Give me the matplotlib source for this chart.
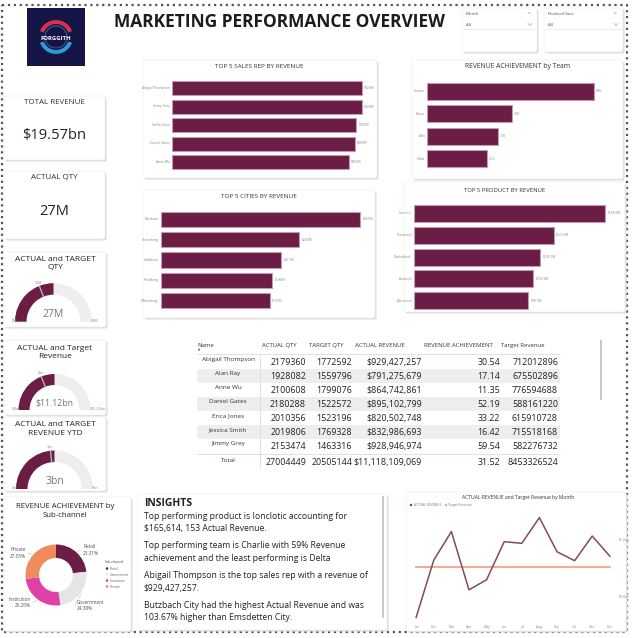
import numpy as np
import matplotlib
matplotlib.use('Agg')
import matplotlib.pyplot as plt
from matplotlib.patches import FancyBboxPatch, Rectangle, Wedge, Circle

plt.rcParams['font.family'] = ['Open Sans', 'DejaVu Sans']

# ---- data ----
rep_names = ['Abigail Thompson', 'Jimmy Grey', 'Stella Given', 'Daniel Gates', 'Anne Wu']
rep_rev = [929.4, 928.9, 901.0, 895.1, 864.7]          # $M

team_names = ['Charlie', 'Bravo', 'Alfa', 'Delta']
team_ach = [59, 30, 25, 21]                              # %

city_names = ['Butzbach', 'Sonneberg', 'Gladbeck', 'Friedberg', 'Wittenberg']
city_rev = [351, 243, 211, 196, 191]                     # $M

prod_names = ['Ionclotic', 'Tetratanyl', 'Nuclarbitol', 'Ambizol', 'Abraxisol']
prod_rev = [165.6, 121.0, 109.1, 103.3, 98.7]            # $M

subch_names = ['Retail', 'Government', 'Institution', 'Private']
subch_pct = [23.31, 24.38, 25.26, 27.05]

months = ['Jan', 'Feb', 'Mar', 'Apr', 'May', 'Jun', 'Jul', 'Aug', 'Sep', 'Oct', 'Nov', 'Dec']
month_actual = [0.862, 0.964, 1.015, 0.911, 0.929, 0.997, 0.994, 1.040, 0.979, 0.963, 1.007, 0.971]  # $bn
month_target = [0.952] * 12

tbl_names = ['Abigail Thompson', 'Alan Ray', 'Anne Wu', 'Daniel Gates', 'Erica Jones', 'Jessica Smith', 'Jimmy Grey']
tbl_actual_qty = [2179360, 1928082, 2100608, 2180288, 2010356, 2019806, 2153474]
tbl_target_qty = [1772592, 1559796, 1799076, 1522572, 1523196, 1769328, 1463316]
tbl_actual_rev = [929427257, 791275679, 864742861, 895102799, 820502748, 832986693, 928946974]
tbl_rev_ach = [30.54, 17.14, 11.35, 52.19, 33.22, 16.42, 59.54]
tbl_target_rev = [712012896, 675502896, 776594688, 588161220, 615910728, 715518168, 582276732]
tbl_total = ['27004449', '20505144', '$11,118,109,069', '31.52', '8453326524']

# gauges: actual, max, target
qty_gauge = [27, 54, 20.5]
rev_gauge = [11.12, 22.24, 8.45]
ytd_gauge = [3, 6, 2.8]

insights = [
    ['Top performing product is Ionclotic accounting for', '$165,614, 153 Actual Revenue.'],
    ['Top performing team is Charlie with 59% Revenue', 'achievement and the least performing is Delta'],
    ['Abigail Thompson is the top sales rep with a revenue of', '$929,427,257.'],
    ['Butzbach City had the highest Actual Revenue and was', '103.67% higher than Emsdetten City.'],
]

maroon = '#6B1D45'
W, H = 632, 638

fig = plt.figure(figsize=(W / 100, H / 100), dpi=100)
fig.patch.set_facecolor('white')
bg = fig.add_axes([0, 0, 1, 1])
bg.set_xlim(0, W)
bg.set_ylim(H, 0)
bg.axis('off')


def px_axes(x0, y0, x1, y1):
    return fig.add_axes([x0 / W, 1 - y1 / H, (x1 - x0) / W, (y1 - y0) / H])


def card(x0, y0, x1, y1):
    bg.add_patch(FancyBboxPatch((x0 + 1.5, y0 + 1.5), x1 - x0, y1 - y0,
                                boxstyle='round,pad=0,rounding_size=2', fc='#dadada', ec='none', zorder=1))
    bg.add_patch(FancyBboxPatch((x0, y0), x1 - x0, y1 - y0,
                                boxstyle='round,pad=0,rounding_size=2', fc='white', ec='#efefef', lw=0.5, zorder=2))


# dotted page border
bg.plot([2, 627, 627, 2, 2], [5, 5, 632, 632, 5], ls=':', color='#555555', lw=1.6, zorder=0)

# logo
bg.add_patch(Rectangle((27, 8), 58, 58, fc='#141544', ec='none', zorder=3))
bg.add_patch(Wedge((56, 37), 17, 200, 340, width=4, fc='#d9304c', ec='none', zorder=4))
bg.add_patch(Wedge((56, 37), 17, 20, 160, width=4, fc='#2f9ad8', ec='none', zorder=4))
bg.add_patch(Circle((56, 37), 11, fc='none', ec='#3a6fb0', lw=0.6, zorder=4))
bg.text(56, 38, 'FORGGITH', color='white', fontsize=4.3, weight='bold', ha='center', va='center', zorder=5)

bg.text(279, 22, 'MARKETING PERFORMANCE OVERVIEW', fontsize=12.5, weight='bold',
        ha='center', va='center', color='#1c1c1c')

# slicers
for (x0, x1, lab) in [(462, 537, 'Month'), (544, 623, 'ProductClass')]:
    card(x0, 8, x1, 52)
    bg.text(x0 + 4, 14, lab, fontsize=3.2, color='#555555', va='center', zorder=3)
    bg.text(x0 + 4, 24.5, 'All', fontsize=3.2, color='#555555', va='center', zorder=3)
    bg.plot([x0 + 2, x1 - 2], [29, 29], color='#e8e8e8', lw=0.6, zorder=3)
    for yy, s in [(13, 1.2), (24.5, 2)]:
        bg.plot([x1 - 9, x1 - 9 + s, x1 - 9 + 2 * s], [yy - s / 2, yy + s / 2, yy - s / 2],
                color='#aaaaaa', lw=0.5, zorder=3)

# KPI cards
card(4, 96, 105, 160)
bg.text(54, 102.7, 'TOTAL REVENUE', fontsize=5.8, ha='center', va='center', color='#333333', zorder=3)
bg.text(54, 136, '$19.57bn', fontsize=10.5, ha='center', va='center', color='#222222', zorder=3)
card(4, 171, 105, 239)
bg.text(54, 177.7, 'ACTUAL QTY', fontsize=5.8, ha='center', va='center', color='#333333', zorder=3)
bg.text(54, 211.7, '27M', fontsize=10.5, ha='center', va='center', color='#222222', zorder=3)


def gauge(cx, cy, r, w, vals, vtxt, mintxt, maxtxt, ttxt, vsize):
    actual, vmax, target = vals
    bg.add_patch(Wedge((cx, cy), r, 180, 360, width=w, fc='#efeded', ec='none', zorder=3))
    bg.add_patch(Wedge((cx, cy), r, 180, 180 + 180 * actual / vmax, width=w, fc=maroon, ec='none', zorder=4))
    a = np.deg2rad(180 + 180 * target / vmax)
    bg.plot([cx + (r - w) * np.cos(a), cx + r * np.cos(a)], [cy + (r - w) * np.sin(a), cy + r * np.sin(a)],
            color='#bdbdbd', lw=0.9, zorder=5)
    bg.text(cx + (r + 1.5) * np.cos(a), cy + (r + 1.5) * np.sin(a), ttxt, fontsize=2.6, color='#888888',
            ha='center', va='bottom', zorder=5)
    bg.text(cx, cy - 7, vtxt, fontsize=vsize, color='#777777', ha='center', va='center', zorder=5)
    bg.text(cx - r + 2, cy - 1, mintxt, fontsize=2.6, color='#888888', ha='right', va='center', zorder=5)
    bg.text(cx + r - 1, cy - 1, maxtxt, fontsize=2.6, color='#888888', ha='left', va='center', zorder=5)


card(4, 252, 106, 327)
bg.text(55, 263.5, 'ACTUAL and TARGET\nQTY', fontsize=6, ha='center', va='center', color='#222222',
        linespacing=1.35, zorder=3)
gauge(53.5, 321.7, 38.5, 11.5, qty_gauge, '27M', '0M', '54M', '20M', 7.5)

card(4, 340, 106, 415)
bg.text(55, 352.5, 'ACTUAL and Target\nRevenue', fontsize=6, ha='center', va='center', color='#222222',
        linespacing=1.35, zorder=3)
gauge(54.5, 410, 36, 11, rev_gauge, '$11.12bn', '$0bn', '$22.24bn', '8bn', 6.3)

card(4, 417, 106, 491)
bg.text(55, 429, 'ACTUAL and TARGET\nREVENUE YTD', fontsize=6, ha='center', va='center', color='#222222',
        linespacing=1.35, zorder=3)
gauge(54.5, 489, 38.5, 11.5, ytd_gauge, '3bn', '0bn', '6bn', '3bn', 7.5)

# donut
card(4, 497, 131, 631)
bg.text(65, 511, 'REVENUE ACHIEVEMENT by\nSub-channel', fontsize=5.6, ha='center', va='center',
        color='#222222', linespacing=1.35, zorder=3)
sub_colors = [maroon, '#e6e4e4', '#df42a4', '#ef8c5b']
dcx, dcy, dr = 56, 575, 30.5
start = 270
label_pos = [(83, 550, 'left'), (77, 605.5, 'left'), (31, 602.5, 'right'), (26, 553, 'right')]
for name, pct, col, (lx, ly, ha) in zip(subch_names, subch_pct, sub_colors, label_pos):
    end = start + pct * 3.6
    bg.add_patch(Wedge((dcx, dcy), dr, start, end, width=13.5, fc=col, ec='none', zorder=3))
    mid = np.deg2rad((start + end) / 2)
    px, py = dcx + (dr + 1) * np.cos(mid), dcy + (dr + 1) * np.sin(mid)
    ex = lx - 2 if ha == 'left' else lx + 2
    bg.plot([px, ex], [py, ly], color='#bbbbbb', lw=0.4, zorder=3)
    bg.text(lx, ly, f'{name}\n{pct:.2f}%', fontsize=3.4, color='#555555', ha=ha, va='center',
            linespacing=1.3, zorder=3)
    start = end
bg.text(105, 562, 'Sub-channel', fontsize=2.4, color='#444444', va='center', zorder=3)
for i, (name, col) in enumerate(zip(subch_names, sub_colors)):
    yy = 568.5 + 6 * i
    bg.add_patch(Circle((107, yy), 1.3, fc=col, ec='none', zorder=3))
    bg.text(110, yy, name, fontsize=2.4, color='#666666', va='center', zorder=3)

# insights
card(138, 494, 387, 630)
bg.add_patch(FancyBboxPatch((382, 496), 2, 122, boxstyle='round,pad=0,rounding_size=1',
                            fc='#c8c8c8', ec='none', zorder=3))
bg.text(144, 503.3, 'INSIGHTS', fontsize=7.5, weight='bold', color='#222222', va='center', zorder=3)
yy = 516.3
for para in insights:
    for line in para:
        bg.text(144, yy, line, fontsize=6.2, color='#222222', va='center', zorder=3)
        yy += 12.4
    yy += 4.9

# horizontal bar charts
def hbar(box, left, right_max, axright, top, bottom, h, names, vals, labels, title, title_xy, tsize):
    card(*box)
    n = len(vals)
    p = (bottom - top - h) / (n - 1)
    ax = px_axes(left, top - (p - h) / 2, axright, bottom + (p - h) / 2)
    ax.barh(range(n), vals, height=h / p, color=maroon, edgecolor='#c49ab2', linewidth=0.8, zorder=3)
    ax.set_ylim(n - 0.5, -0.5)
    xmax = max(vals) * (axright - left) / (right_max - left)
    ax.set_xlim(0, xmax)
    ax.axis('off')
    for i, (nm, v, lb) in enumerate(zip(names, vals, labels)):
        ax.text(-xmax * 0.012, i, nm, fontsize=2.4, color='#888888', ha='right', va='center', clip_on=False)
        ax.text(v + xmax * 0.012, i, lb, fontsize=2.4, color='#888888', ha='left', va='center')
    bg.text(title_xy[0], title_xy[1], title, fontsize=tsize, color='#333333', ha='center', va='center', zorder=3)


hbar((143, 60, 377, 178), 172.3, 361.7, 376, 81, 169, 14, rep_names, rep_rev,
     [f'${v:.0f}M' for v in rep_rev], 'TOP 5 SALES REP BY REVENUE', (259, 66.7), 4.6)
hbar((412, 60, 623, 179), 427.3, 593.7, 618, 82.7, 167, 17, team_names, team_ach,
     [f'{v}%' for v in team_ach], 'REVENUE ACHIEVEMENT by Team', (517.7, 66.7), 4.9)
hbar((143, 190, 375, 318), 161.3, 360.3, 374, 211.7, 308.3, 15.5, city_names, city_rev,
     [f'${v}M' for v in city_rev], 'TOP 5 CITIES BY REVENUE', (259, 196.7), 4.6)
hbar((404, 182, 625, 312), 414, 605.3, 623, 205, 309.3, 17, prod_names, prod_rev,
     [f'${v:.1f}M' for v in prod_rev], 'TOP 5 PRODUCT BY REVENUE', (505, 190), 4.2)

# table
hdr_x = [197, 262, 309, 355, 424, 501]
hdrs = ['Name', 'ACTUAL QTY', 'TARGET QTY', 'ACTUAL REVENUE', 'REVENUE ACHIEVEMENT', 'Target Revenue']
for x, hd in zip(hdr_x, hdrs):
    bg.text(x, 345.7, hd, fontsize=4.3, color='#333333', va='center', zorder=3)
bg.text(198, 349.8, '▲', fontsize=2, color='#333333', va='center', zorder=3)
bg.plot([197, 560], [354, 354], color='#cfe0f0', lw=0.6, zorder=3)
bg.plot([259.5, 259.5], [354, 467], color='#cfe0f0', lw=0.6, zorder=3)
bg.plot([197, 560], [453.5, 453.5], color='#cfe0f0', lw=0.6, zorder=3)
col_right = [306, 352, 422, 500, 558]
for i in range(len(tbl_names)):
    ry = 362.3 + 14 * i
    if i % 2 == 1:
        bg.add_patch(Rectangle((197, ry - 7), 363, 14, fc='#eeeeee', ec='none', zorder=2))
    bg.text(228, ry - 2.5, tbl_names[i], fontsize=4.6, color='#333333', ha='center', va='center', zorder=3)
    cells = [str(tbl_actual_qty[i]), str(tbl_target_qty[i]), f'${tbl_actual_rev[i]:,}',
             f'{tbl_rev_ach[i]:.2f}', str(tbl_target_rev[i])]
    for x, c in zip(col_right, cells):
        bg.text(x, ry, c, fontsize=6.4, color='#222222', ha='right', va='center', zorder=3)
bg.text(228, 460.5, 'Total', fontsize=4.6, color='#333333', ha='center', va='center', zorder=3)
for x, c in zip(col_right, tbl_total):
    bg.text(x, 462.7, c, fontsize=6.4, color='#222222', ha='right', va='center', zorder=3)
bg.add_patch(Rectangle((600, 340), 1.5, 60, fc='#c8c8c8', ec='none', zorder=3))

# line chart
card(406, 492, 626, 631)
bg.text(518, 497.5, 'ACTUAL REVENUE and Target Revenue by Month', fontsize=3.6, color='#333333',
        ha='center', va='center', zorder=3)
bg.add_patch(Circle((411, 505), 1.2, fc='#7b3a5e', ec='none', zorder=3))
bg.text(413.5, 505, 'ACTUAL REVENUE', fontsize=2.3, color='#777777', va='center', zorder=3)
bg.add_patch(Circle((446, 505), 1.2, fc='#f4a27e', ec='none', zorder=3))
bg.text(448.5, 505, 'Target Revenue', fontsize=2.3, color='#777777', va='center', zorder=3)

lax = px_axes(410, 515, 616, 622)
x = np.arange(len(months))
lax.plot(x, month_target, color='#f5a582', lw=1.3, zorder=2)
lax.plot(x, month_actual, color='#84466a', lw=1.1, zorder=3)
lax.set_xlim(-0.35, 11.35)
lax.set_ylim(0.8536, 1.0446)
lax.set_xticks(x)
lax.set_xticklabels(months, fontsize=2.4, color='#888888')
lax.set_yticks([0.9, 1.0])
lax.set_yticklabels(['$0.9bn', '$1.0bn'], fontsize=2.4, color='#888888')
lax.yaxis.tick_right()
lax.tick_params(length=0, pad=2)
for s in lax.spines.values():
    s.set_visible(False)
lax.patch.set_alpha(0)

fig.savefig('out.png', dpi=100, facecolor='white')
